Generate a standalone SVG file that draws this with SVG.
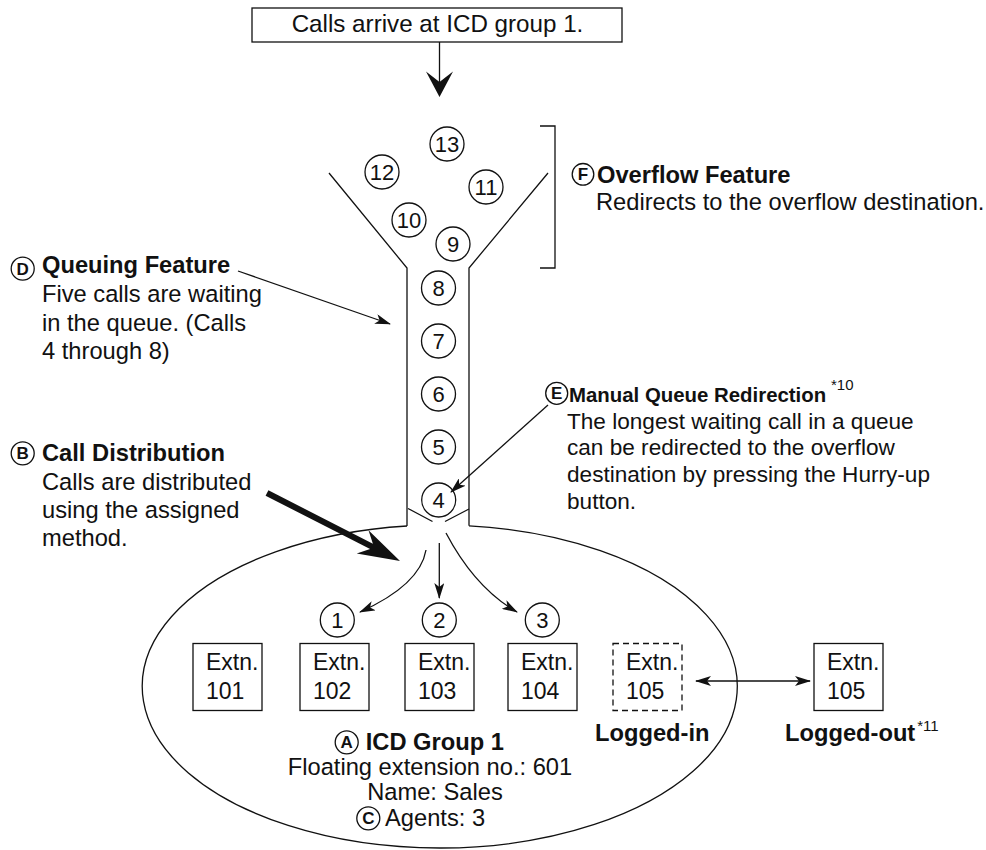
<svg xmlns="http://www.w3.org/2000/svg" width="986" height="850" viewBox="0 0 986 850">
<defs>
<style>
text { font-family: "Liberation Sans", Arial, Helvetica, sans-serif; fill: #111; }
.t { font-size: 23.7px; }
.b { font-size: 23.7px; font-weight: bold; }
.te { font-size: 22.6px; }
.be { font-size: 20.4px; font-weight: bold; }
.x { font-size: 23px; }
.c { text-anchor: middle; }
.num { font-size: 22px; text-anchor: middle; }
.ltr { font-size: 17px; font-weight: bold; text-anchor: middle; }
.sup { font-size: 15px; font-weight: normal; }
.ln { fill: none; stroke: #111; stroke-width: 1.3; }
.circ { fill: #fff; stroke: #111; stroke-width: 1.3; }
.box { fill: #fff; stroke: #111; stroke-width: 1.3; }
.dash { fill: #fff; stroke: #111; stroke-width: 1.3; stroke-dasharray: 6 4; }
.arr { fill: none; stroke: #111; stroke-width: 1.3; marker-end: url(#ah); }
.fill { fill: #111; stroke: none; }
</style>
<marker id="ah" viewBox="0 0 16 10" refX="15" refY="5" markerWidth="16" markerHeight="10" orient="auto-start-reverse" markerUnits="userSpaceOnUse">
<path d="M0,0 L16,5 L0,10 L4,5 Z" fill="#111"/>
</marker>
</defs>
<rect width="986" height="850" fill="#fff"/>

<g id="arrival">
<rect class="box" x="252" y="8" width="370" height="34"/>
<text class="c" style="font-size:24.2px" x="437.5" y="32">Calls arrive at ICD group 1.</text>
</g>

<g id="funnel">
<path class="ln" d="M329,173 L407,268 L407,526 M548,173 L469,268 L469,525.8"/>
<path class="ln" d="M408,508.5 L432.5,521.5 M445,521.5 L469,509"/>
</g>

<g id="bracket">
<path class="ln" d="M540,126 L555,126 L555,268 L540,268"/>
</g>

<g id="icd-group">
<path class="ln" d="M469,525.8 A297.5 161.5 0 1 1 407,526"/>
</g>

<g id="calls">
<g id="call-13"><circle class="circ" cx="447" cy="144" r="17"/><text class="num" x="447" y="152">13</text></g>
<g id="call-12"><circle class="circ" cx="382" cy="172" r="17"/><text class="num" x="382" y="180">12</text></g>
<g id="call-11"><circle class="circ" cx="486" cy="187" r="17"/><text class="num" x="486" y="195">11</text></g>
<g id="call-10"><circle class="circ" cx="409" cy="220" r="17"/><text class="num" x="409" y="228">10</text></g>
<g id="call-9"><circle class="circ" cx="453" cy="244" r="17"/><text class="num" x="453" y="252">9</text></g>
<g id="call-8"><circle class="circ" cx="438.5" cy="288" r="17"/><text class="num" x="438.5" y="296">8</text></g>
<g id="call-7"><circle class="circ" cx="438.5" cy="341" r="17"/><text class="num" x="438.5" y="349">7</text></g>
<g id="call-6"><circle class="circ" cx="438.5" cy="394" r="17"/><text class="num" x="438.5" y="402">6</text></g>
<g id="call-5"><circle class="circ" cx="438.5" cy="447" r="17"/><text class="num" x="438.5" y="455">5</text></g>
<g id="call-4"><circle class="circ" cx="438.7" cy="500" r="17"/><text class="num" x="438.7" y="508">4</text></g>
<g id="call-1"><circle class="circ" cx="337.3" cy="620" r="17"/><text class="num" x="337.3" y="628">1</text></g>
<g id="call-2"><circle class="circ" cx="439.3" cy="620" r="17"/><text class="num" x="439.3" y="628">2</text></g>
<g id="call-3"><circle class="circ" cx="542.3" cy="620" r="17"/><text class="num" x="542.3" y="628">3</text></g>
</g>

<g id="ext-101"><rect class="box" x="193" y="643.5" width="69" height="67"/><text class="x" x="206" y="670">Extn.</text><text class="x" x="206" y="699">101</text></g>
<g id="ext-102"><rect class="box" x="300" y="643.5" width="69" height="67"/><text class="x" x="313" y="670">Extn.</text><text class="x" x="313" y="699">102</text></g>
<g id="ext-103"><rect class="box" x="405" y="643.5" width="69" height="67"/><text class="x" x="418" y="670">Extn.</text><text class="x" x="418" y="699">103</text></g>
<g id="ext-104"><rect class="box" x="508" y="643.5" width="69" height="67"/><text class="x" x="521" y="670">Extn.</text><text class="x" x="521" y="699">104</text></g>
<g id="ext-105-in"><rect class="dash" x="613" y="643.5" width="69" height="67"/><text class="x" x="626" y="670">Extn.</text><text class="x" x="626" y="699">105</text></g>
<g id="ext-105-out"><rect class="box" x="814" y="643.5" width="69" height="67"/><text class="x" x="827" y="670">Extn.</text><text class="x" x="827" y="699">105</text></g>

<g id="label-f">
<circle class="circ" cx="583" cy="174.3" r="10.8"/><text class="ltr" x="583" y="180.3">F</text>
<text class="b" x="597" y="182.7">Overflow Feature</text>
<text class="t" x="596" y="210">Redirects to the overflow destination.</text>
</g>

<g id="label-d">
<circle class="circ" cx="22.7" cy="268.7" r="11.5"/><text class="ltr" x="22.7" y="274.7">D</text>
<text class="b" x="42" y="273">Queuing Feature</text>
<text class="t" x="42" y="302">Five calls are waiting</text>
<text class="t" x="42" y="330.5">in the queue. (Calls</text>
<text class="t" x="42" y="359">4 through 8)</text>
</g>

<g id="label-e">
<circle class="circ" cx="556.7" cy="393.3" r="11"/><text class="ltr" x="556.7" y="399.3">E</text>
<text class="be" x="569" y="401.7">Manual Queue Redirection</text>
<text class="sup" x="831" y="390">*10</text>
<text class="te" x="567" y="428.5">The longest waiting call in a queue</text>
<text class="te" x="567" y="455">can be redirected to the overflow</text>
<text class="te" x="567" y="482">destination by pressing the Hurry-up</text>
<text class="te" x="567" y="509">button.</text>
</g>

<g id="label-b">
<circle class="circ" cx="22.7" cy="453.3" r="11.5"/><text class="ltr" x="22.7" y="459.3">B</text>
<text class="b" x="42" y="461">Call Distribution</text>
<text class="t" x="42" y="489.5">Calls are distributed</text>
<text class="t" x="42" y="518">using the assigned</text>
<text class="t" x="42" y="546">method.</text>
</g>

<g id="label-a">
<circle class="circ" cx="346.7" cy="742.3" r="11.5"/><text class="ltr" x="346.7" y="748.3">A</text>
<text class="b" x="365.7" y="750">ICD Group 1</text>
<text class="t c" x="430" y="775">Floating extension no.: 601</text>
<text class="t c" x="435" y="800">Name: Sales</text>
<circle class="circ" cx="368.3" cy="818.3" r="11.5"/><text class="ltr" x="368.3" y="824.3">C</text>
<text class="t" x="385" y="826">Agents: 3</text>
</g>

<g id="label-logged">
<text class="b" x="595" y="741">Logged-in</text>
<text class="b" x="785" y="741">Logged-out<tspan class="sup" dx="2" dy="-10">*11</tspan></text>
</g>

<g id="connectors">
<path class="ln" d="M439.5,42 L439.5,82"/>
<path class="fill" d="M426,71.5 L439.5,97 L453,71.5 L439.5,82 Z"/>
<path class="arr" d="M238,271 L390,324"/>
<path class="arr" d="M548,405 L451,492"/>
<path class="fill" d="M268.4,490.3 L372.9,543.7 L368.5,530.3 L400,561 L356.7,553.5 L370.1,549.1 L265.6,495.7 Z"/>
<path class="arr" d="M426,550 Q420,585 360,612"/>
<path class="arr" d="M439.3,543 L439.3,598"/>
<path class="arr" d="M446,533 Q475,588 517,612"/>
<path class="ln" d="M696,681 L810,681" marker-start="url(#ah)" marker-end="url(#ah)"/>
</g>
</svg>
